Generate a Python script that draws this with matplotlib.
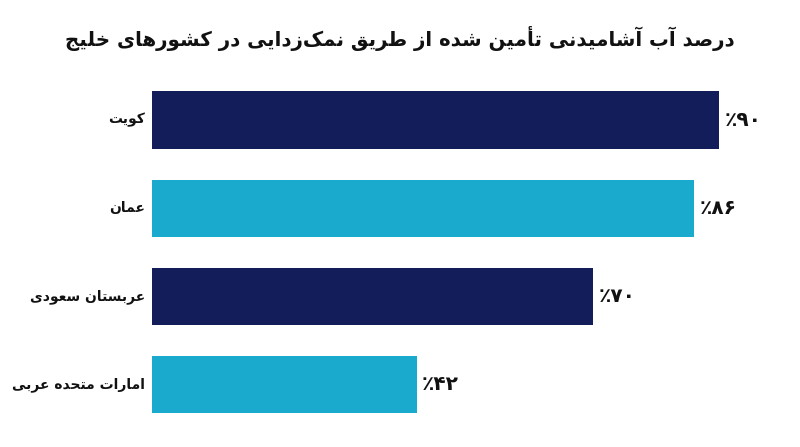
import matplotlib
matplotlib.use("Agg")
import matplotlib.pyplot as plt

# ---------------- data ----------------
title = "درصد آب آشامیدنی تأمین شده از طریق نمک\u200cزدایی در کشورهای خلیج"
categories = ["کویت", "عمان", "عربستان سعودی", "امارات متحده عربی"]
values = [90, 86, 70, 42]
value_labels = ["٪۹۰", "٪۸۶", "٪۷۰", "٪۴۲"]  # visual order
colors = ["#121d59", "#19aacd", "#121d59", "#19aacd"]

# ------------- minimal Arabic/Persian shaping -------------
# (isolated, final, initial, medial); None initial/medial => right-joining only
FORMS = {
    "ا": (0xFE8D, 0xFE8E, None, None),
    "آ": (0xFE81, 0xFE82, None, None),
    "أ": (0xFE83, 0xFE84, None, None),
    "إ": (0xFE87, 0xFE88, None, None),
    "ب": (0xFE8F, 0xFE90, 0xFE91, 0xFE92),
    "ت": (0xFE95, 0xFE96, 0xFE97, 0xFE98),
    "ث": (0xFE99, 0xFE9A, 0xFE9B, 0xFE9C),
    "ج": (0xFE9D, 0xFE9E, 0xFE9F, 0xFEA0),
    "ح": (0xFEA1, 0xFEA2, 0xFEA3, 0xFEA4),
    "خ": (0xFEA5, 0xFEA6, 0xFEA7, 0xFEA8),
    "د": (0xFEA9, 0xFEAA, None, None),
    "ذ": (0xFEAB, 0xFEAC, None, None),
    "ر": (0xFEAD, 0xFEAE, None, None),
    "ز": (0xFEAF, 0xFEB0, None, None),
    "ژ": (0xFB8A, 0xFB8B, None, None),
    "س": (0xFEB1, 0xFEB2, 0xFEB3, 0xFEB4),
    "ش": (0xFEB5, 0xFEB6, 0xFEB7, 0xFEB8),
    "ص": (0xFEB9, 0xFEBA, 0xFEBB, 0xFEBC),
    "ض": (0xFEBD, 0xFEBE, 0xFEBF, 0xFEC0),
    "ط": (0xFEC1, 0xFEC2, 0xFEC3, 0xFEC4),
    "ظ": (0xFEC5, 0xFEC6, 0xFEC7, 0xFEC8),
    "ع": (0xFEC9, 0xFECA, 0xFECB, 0xFECC),
    "غ": (0xFECD, 0xFECE, 0xFECF, 0xFED0),
    "ف": (0xFED1, 0xFED2, 0xFED3, 0xFED4),
    "ق": (0xFED5, 0xFED6, 0xFED7, 0xFED8),
    "ك": (0xFED9, 0xFEDA, 0xFEDB, 0xFEDC),
    "ک": (0xFB8E, 0xFB8F, 0xFB90, 0xFB91),
    "گ": (0xFB92, 0xFB93, 0xFB94, 0xFB95),
    "ل": (0xFEDD, 0xFEDE, 0xFEDF, 0xFEE0),
    "م": (0xFEE1, 0xFEE2, 0xFEE3, 0xFEE4),
    "ن": (0xFEE5, 0xFEE6, 0xFEE7, 0xFEE8),
    "ه": (0xFEE9, 0xFEEA, 0xFEEB, 0xFEEC),
    "و": (0xFEED, 0xFEEE, None, None),
    "ي": (0xFEF1, 0xFEF2, 0xFEF3, 0xFEF4),
    "ی": (0xFBFC, 0xFBFD, 0xFBFE, 0xFBFF),
    "پ": (0xFB56, 0xFB57, 0xFB58, 0xFB59),
    "چ": (0xFB7A, 0xFB7B, 0xFB7C, 0xFB7D),
}


def shape(text):
    out = []
    n = len(text)
    for i, ch in enumerate(text):
        if ch == "\u200c":
            continue
        f = FORMS.get(ch)
        if f is None:
            out.append(ch)
            continue
        prev = text[i - 1] if i > 0 else ""
        nxt = text[i + 1] if i + 1 < n else ""
        pf = FORMS.get(prev)
        jp = pf is not None and pf[2] is not None
        jn = f[2] is not None and FORMS.get(nxt) is not None
        if jp and jn:
            code = f[3]
        elif jp:
            code = f[1]
        elif jn:
            code = f[2]
        else:
            code = f[0]
        out.append(chr(code))
    return "".join(out)[::-1]


plt.rcParams["font.family"] = ["DejaVu Sans"]

fig = plt.figure(figsize=(8.0, 4.47), dpi=100)
fig.patch.set_facecolor("white")
ax = fig.add_axes([0.19, 0.041, 0.7875, 0.789])

ypos = list(range(len(categories)))
ax.barh(ypos, values, height=0.65, color=colors)
ax.set_xlim(0, 100)
ax.set_ylim(len(categories) - 0.5, -0.5)
ax.axis("off")

for y, v, lab in zip(ypos, values, value_labels):
    ax.annotate(lab, (v, y), xytext=(4, 0), textcoords="offset points",
                ha="left", va="center", fontsize=14.5, fontweight="bold",
                color="#111111")

for y, c in zip(ypos, categories):
    ax.annotate(shape(c), (0, y), xytext=(-5, 0), textcoords="offset points",
                ha="right", va="center", fontsize=10, fontweight="bold",
                color="#111111")

fig.text(0.5, 0.915, shape(title), ha="center", va="center",
         fontsize=14.2, fontweight="bold", color="#111111")

fig.savefig("out.png", dpi=100, facecolor="white")
